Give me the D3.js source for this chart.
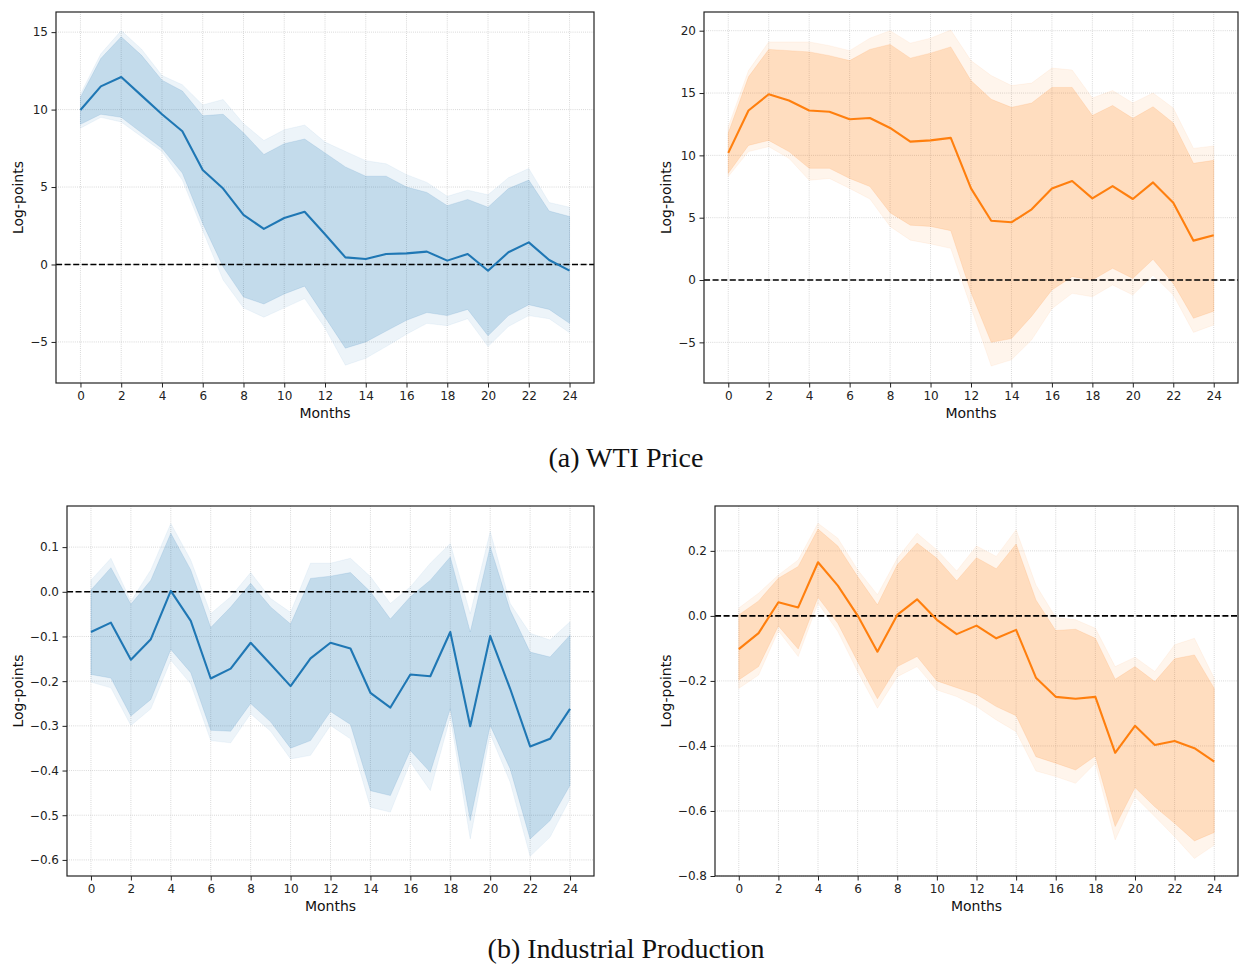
<!DOCTYPE html>
<html>
<head>
<meta charset="utf-8">
<script src="https://cdn.jsdelivr.net/npm/d3@7"></script>
<style>
  body { margin: 0; background: #fff; }
  svg { display: block; }
  .tick text { font-family: "DejaVu Sans", sans-serif; font-size: 12px; fill: #222; }
  .axis-label { font-family: "DejaVu Sans", sans-serif; font-size: 14px; fill: #111; }
  .caption { font-family: "Liberation Serif", "DejaVu Serif", serif; font-size: 28px; fill: #111; }
</style>
</head>
<body>
<div id="chart"></div>
<script>
// months on the horizontal axis
const months = [0, 1, 2, 3, 4, 5, 6, 7, 8, 9, 10, 11, 12, 13, 14, 15, 16, 17, 18, 19, 20, 21, 22, 23, 24];
const xTicks = [0, 2, 4, 6, 8, 10, 12, 14, 16, 18, 20, 22, 24];

// (a) WTI price, left panel (blue)
const wtiBlue = [9.97, 11.5, 12.1, 10.9, 9.7, 8.6, 6.1, 4.9, 3.2, 2.3, 3.0, 3.4, 1.95, 0.46, 0.35, 0.68, 0.72, 0.83, 0.25, 0.68, -0.4, 0.79, 1.43, 0.29, -0.4];
const wtiBlueInnerHi = [10.8, 13.3, 14.7, 13.5, 11.9, 11.2, 9.6, 9.7, 8.5, 7.1, 7.8, 8.1, 7.2, 6.3, 5.7, 5.7, 5.0, 4.65, 3.8, 4.2, 3.7, 4.9, 5.45, 3.45, 3.1];
const wtiBlueOuterHi = [11.0, 13.6, 15.1, 13.9, 12.2, 11.6, 10.3, 10.65, 9.1, 8.0, 8.7, 9.0, 7.9, 7.3, 6.7, 6.5, 5.8, 5.3, 4.4, 4.8, 4.5, 5.6, 6.2, 4.0, 3.7];
const wtiBlueInnerLo = [9.05, 9.7, 9.5, 8.5, 7.5, 5.9, 2.65, -0.15, -2.1, -2.55, -1.9, -1.4, -3.4, -5.4, -5.0, -4.3, -3.6, -3.1, -3.3, -2.9, -4.6, -3.3, -2.6, -2.9, -3.8];
const wtiBlueOuterLo = [8.8, 9.5, 9.2, 8.25, 7.3, 5.45, 2.2, -1.0, -2.8, -3.4, -2.8, -2.2, -4.1, -6.5, -6.05, -5.3, -4.5, -3.8, -3.95, -3.5, -5.3, -4.0, -3.3, -3.5, -4.4];
const wtiBlueTicks = [-5, 0, 5, 10, 15];

// (a) WTI price, right panel (orange)
const wtiOrange = [10.2, 13.6, 14.9, 14.4, 13.6, 13.5, 12.9, 13.0, 12.2, 11.1, 11.2, 11.4, 7.35, 4.76, 4.63, 5.67, 7.35, 7.94, 6.55, 7.54, 6.5, 7.83, 6.2, 3.16, 3.6];
const wtiOrangeInnerHi = [11.8, 16.3, 18.5, 18.4, 18.3, 18.0, 17.6, 18.5, 18.9, 17.8, 18.2, 18.7, 16.0, 14.5, 13.85, 14.2, 15.45, 15.45, 13.2, 14.0, 12.97, 13.9, 12.6, 9.36, 9.6];
const wtiOrangeOuterHi = [12.3, 16.8, 19.1, 19.1, 19.1, 18.8, 18.4, 19.4, 20.0, 19.0, 19.4, 20.05, 17.6, 16.4, 15.6, 15.8, 17.0, 16.85, 14.6, 15.2, 14.2, 15.0, 13.8, 10.56, 10.75];
const wtiOrangeInnerLo = [8.56, 10.8, 11.2, 10.3, 8.96, 8.96, 8.15, 7.5, 5.4, 4.4, 4.3, 3.96, -1.0, -5.0, -4.7, -2.9, -0.8, 0.27, 0.0, 0.94, 0.13, 1.66, -0.27, -3.07, -2.5];
const wtiOrangeOuterLo = [8.3, 10.3, 10.7, 9.76, 8.0, 8.15, 7.35, 6.5, 4.3, 3.2, 2.9, 2.54, -2.2, -6.9, -6.4, -4.8, -2.3, -1.07, -1.34, -0.4, -1.2, 0.4, -1.2, -4.2, -3.6];
const wtiOrangeTicks = [-5, 0, 5, 10, 15, 20];

// (b) Industrial production, left panel (blue)
const ipBlue = [-0.090, -0.069, -0.152, -0.106, 0.002, -0.065, -0.194, -0.172, -0.114, -0.162, -0.211, -0.149, -0.114, -0.127, -0.226, -0.259, -0.185, -0.189, -0.090, -0.301, -0.099, -0.217, -0.346, -0.329, -0.262];
const ipBlueInnerHi = [0.004, 0.054, -0.028, 0.026, 0.131, 0.049, -0.080, -0.034, 0.019, -0.034, -0.072, 0.030, 0.035, 0.043, 0.0, -0.061, -0.011, 0.026, 0.078, -0.090, 0.101, -0.041, -0.135, -0.146, -0.097];
const ipBlueOuterHi = [0.026, 0.075, -0.021, 0.049, 0.153, 0.071, -0.049, -0.011, 0.043, -0.015, -0.046, 0.064, 0.064, 0.075, 0.034, -0.026, 0.011, 0.064, 0.108, -0.049, 0.135, -0.026, -0.093, -0.108, -0.067];
const ipBlueInnerLo = [-0.185, -0.193, -0.278, -0.241, -0.129, -0.181, -0.310, -0.312, -0.250, -0.291, -0.350, -0.333, -0.268, -0.297, -0.445, -0.456, -0.355, -0.404, -0.262, -0.512, -0.299, -0.396, -0.553, -0.512, -0.433];
const ipBlueOuterLo = [-0.202, -0.215, -0.299, -0.262, -0.153, -0.206, -0.333, -0.338, -0.273, -0.312, -0.374, -0.366, -0.299, -0.329, -0.482, -0.493, -0.381, -0.445, -0.280, -0.553, -0.318, -0.426, -0.592, -0.549, -0.463];
const ipBlueTicks = [-0.6, -0.5, -0.4, -0.3, -0.2, -0.1, 0.0, 0.1];

// (b) Industrial production, right panel (orange)
const ipOrange = [-0.102, -0.053, 0.042, 0.026, 0.165, 0.093, 0.001, -0.110, 0.003, 0.051, -0.012, -0.056, -0.030, -0.069, -0.043, -0.190, -0.249, -0.255, -0.249, -0.421, -0.338, -0.397, -0.385, -0.407, -0.448];
const ipOrangeInnerHi = [0.003, 0.046, 0.116, 0.152, 0.267, 0.215, 0.121, 0.034, 0.157, 0.224, 0.177, 0.108, 0.179, 0.145, 0.221, 0.049, -0.045, -0.041, -0.069, -0.195, -0.156, -0.202, -0.132, -0.120, -0.223];
const ipOrangeOuterHi = [0.024, 0.070, 0.126, 0.172, 0.285, 0.239, 0.142, 0.065, 0.177, 0.254, 0.203, 0.138, 0.215, 0.183, 0.265, 0.095, -0.005, -0.012, -0.038, -0.156, -0.127, -0.171, -0.089, -0.069, -0.192];
const ipOrangeInnerLo = [-0.197, -0.156, -0.031, -0.102, 0.057, -0.023, -0.141, -0.255, -0.156, -0.125, -0.200, -0.221, -0.241, -0.279, -0.307, -0.433, -0.453, -0.474, -0.431, -0.648, -0.528, -0.587, -0.638, -0.692, -0.666];
const ipOrangeOuterLo = [-0.223, -0.182, -0.046, -0.125, 0.039, -0.048, -0.171, -0.284, -0.187, -0.156, -0.228, -0.248, -0.279, -0.320, -0.356, -0.477, -0.494, -0.515, -0.453, -0.689, -0.556, -0.617, -0.679, -0.746, -0.705];
const ipOrangeTicks = [-0.8, -0.6, -0.4, -0.2, 0.0, 0.2];

const captions = ["(a) WTI Price", "(b) Industrial Production"];

const W = 1239, H = 966;
const blue = "#1f77b4", orange = "#ff7f0e";

const svg = d3.select("#chart").append("svg")
  .attr("width", W)
  .attr("height", H);

const panels = [
  { box: [56, 12, 594, 383], y: [-7.65, 16.3], color: blue, mid: wtiBlue, iHi: wtiBlueInnerHi, oHi: wtiBlueOuterHi, iLo: wtiBlueInnerLo, oLo: wtiBlueOuterLo, ticks: wtiBlueTicks, fmt: d3.format("d"), labX: 18 },
  { box: [704, 12, 1238, 383], y: [-8.26, 21.5], color: orange, mid: wtiOrange, iHi: wtiOrangeInnerHi, oHi: wtiOrangeOuterHi, iLo: wtiOrangeInnerLo, oLo: wtiOrangeOuterLo, ticks: wtiOrangeTicks, fmt: d3.format("d"), labX: 666 },
  { box: [67, 506, 594, 876], y: [-0.636, 0.192], color: blue, mid: ipBlue, iHi: ipBlueInnerHi, oHi: ipBlueOuterHi, iLo: ipBlueInnerLo, oLo: ipBlueOuterLo, ticks: ipBlueTicks, fmt: d3.format(".1f"), labX: 18 },
  { box: [715, 506, 1238, 876], y: [-0.8, 0.338], color: orange, mid: ipOrange, iHi: ipOrangeInnerHi, oHi: ipOrangeOuterHi, iLo: ipOrangeInnerLo, oLo: ipOrangeOuterLo, ticks: ipOrangeTicks, fmt: d3.format(".1f"), labX: 666 }
];

panels.forEach(function (p) {
  const [x0, y0, x1, y1] = p.box;
  const x = d3.scaleLinear().domain([-1.2, 25.2]).range([x0, x1]);
  const y = d3.scaleLinear().domain(p.y).range([y1, y0]);
  const g = svg.append("g");

  // grid
  xTicks.forEach(function (t) {
    g.append("line")
      .attr("x1", x(t)).attr("x2", x(t))
      .attr("y1", y0).attr("y2", y1)
      .attr("stroke", "#c4c4c4").attr("stroke-width", 0.8)
      .attr("stroke-dasharray", "0.8,1.3");
  });
  p.ticks.forEach(function (t) {
    g.append("line")
      .attr("x1", x0).attr("x2", x1)
      .attr("y1", y(t)).attr("y2", y(t))
      .attr("stroke", "#c4c4c4").attr("stroke-width", 0.8)
      .attr("stroke-dasharray", "0.8,1.3");
  });

  const rows = months.map((m, i) => ({ m: m, mid: p.mid[i], iHi: p.iHi[i], oHi: p.oHi[i], iLo: p.iLo[i], oLo: p.oLo[i] }));

  const outer = d3.area().x(d => x(d.m)).y0(d => y(d.oLo)).y1(d => y(d.oHi));
  const inner = d3.area().x(d => x(d.m)).y0(d => y(d.iLo)).y1(d => y(d.iHi));
  const line = d3.line().x(d => x(d.m)).y(d => y(d.mid));

  g.append("path").datum(rows).attr("d", outer)
    .attr("fill", p.color).attr("fill-opacity", 0.08)
    .attr("stroke", p.color).attr("stroke-opacity", 0.06);
  g.append("path").datum(rows).attr("d", inner)
    .attr("fill", p.color).attr("fill-opacity", 0.2)
    .attr("stroke", p.color).attr("stroke-opacity", 0.12);

  // zero line
  g.append("line")
    .attr("x1", x0).attr("x2", x1)
    .attr("y1", y(0)).attr("y2", y(0))
    .attr("stroke", "#000").attr("stroke-width", 1.6)
    .attr("stroke-dasharray", "6,2.6");

  g.append("path").datum(rows).attr("d", line)
    .attr("fill", "none").attr("stroke", p.color)
    .attr("stroke-width", 2.1).attr("stroke-linejoin", "round");

  // axes
  const xAxis = d3.axisBottom(x).tickValues(xTicks).tickSize(4.5).tickPadding(3.5).tickFormat(d3.format("d"));
  const yAxis = d3.axisLeft(y).tickValues(p.ticks).tickSize(4.5).tickPadding(3.5)
    .tickFormat(d => p.fmt(d).replace("-", "\u2212"));

  const gx = g.append("g").attr("transform", `translate(0,${y1})`).call(xAxis);
  const gy = g.append("g").attr("transform", `translate(${x0},0)`).call(yAxis);
  [gx, gy].forEach(function (a) {
    a.select(".domain").remove();
    a.selectAll(".tick line").attr("stroke", "#222").attr("stroke-width", 1);
  });

  g.append("rect")
    .attr("x", x0).attr("y", y0)
    .attr("width", x1 - x0).attr("height", y1 - y0)
    .attr("fill", "none").attr("stroke", "#222").attr("stroke-width", 1.2);

  g.append("text").attr("class", "axis-label")
    .attr("x", (x0 + x1) / 2).attr("y", y1 + 35)
    .attr("text-anchor", "middle")
    .text("Months");

  g.append("text").attr("class", "axis-label")
    .attr("transform", `translate(${p.labX + 5},${(y0 + y1) / 2}) rotate(-90)`)
    .attr("text-anchor", "middle")
    .text("Log-points");
});

svg.append("text").attr("class", "caption")
  .attr("x", 626).attr("y", 467)
  .attr("text-anchor", "middle")
  .text(captions[0]);

svg.append("text").attr("class", "caption")
  .attr("x", 626).attr("y", 958)
  .attr("text-anchor", "middle")
  .text(captions[1]);
</script>
</body>
</html>
